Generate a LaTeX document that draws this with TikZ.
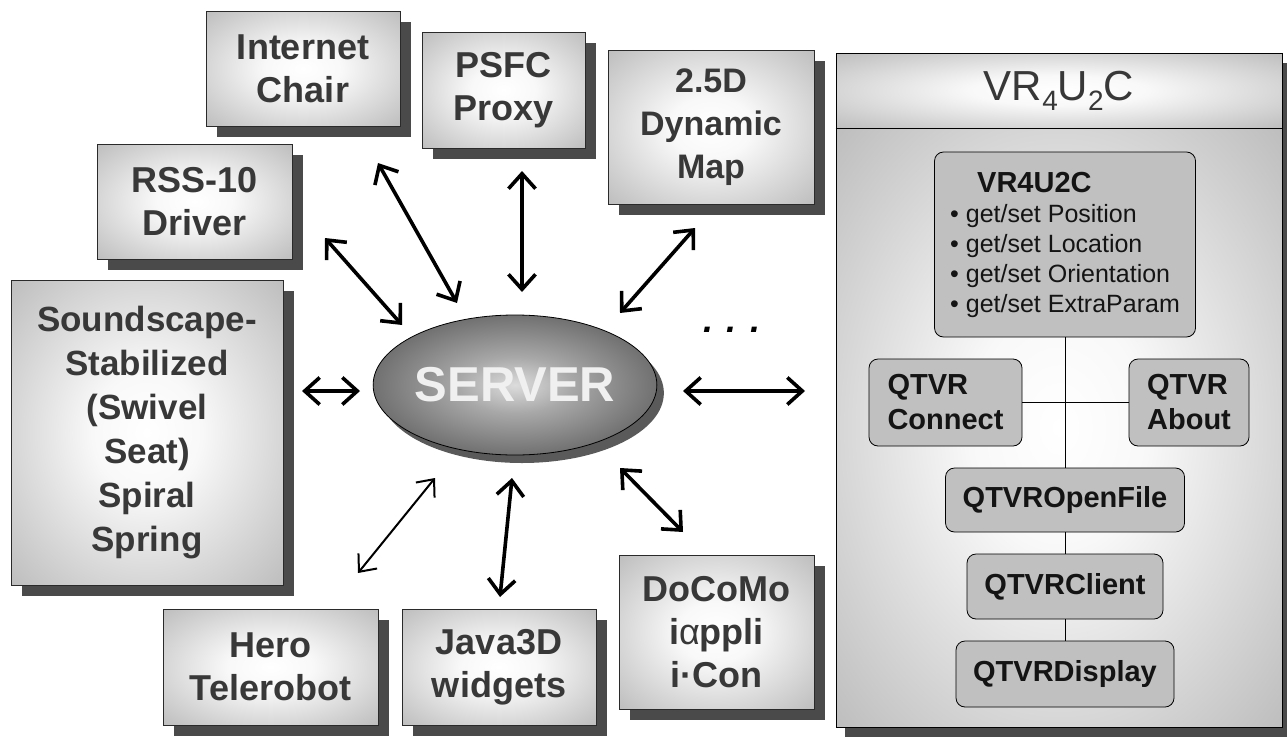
\documentclass[tikz,border=0pt]{standalone}
\usepackage{fontspec}
\setmainfont{Liberation Sans}
\usetikzlibrary{arrows.meta,shadows,shapes.geometric}

\definecolor{boxgray}{HTML}{BCBCBC}
\definecolor{shadowgray}{HTML}{4A4A4A}
\definecolor{boxline}{HTML}{2A2A2A}
\definecolor{boxtext}{HTML}{383838}
\definecolor{innergray}{HTML}{C0C0C0}
\definecolor{srvdark}{HTML}{484848}
\definecolor{srvlight}{HTML}{DCDCDC}
\definecolor{srvshadow}{HTML}{5A5A5A}

% soft light centre fading to grey at the edges
\pgfdeclareradialshading{boxglow}{\pgfpoint{0bp}{0bp}}{color(0bp)=(white); color(10bp)=(white!90!boxgray); color(36bp)=(boxgray); color(50bp)=(boxgray)}
\pgfdeclareradialshading{srvglow}{\pgfpoint{0bp}{0bp}}{color(0bp)=(srvlight); color(10bp)=(srvlight!65!srvdark); color(36bp)=(srvdark); color(50bp)=(srvdark)}

\begin{document}
\begin{tikzpicture}[x=1pt,y=-1pt,
  outerbox/.style={rectangle, draw=boxline, line width=0.8pt, shading=boxglow,
    general shadow={fill=shadowgray, shadow xshift=11pt, shadow yshift=-11pt},
    text=boxtext, align=center, inner sep=0pt,
    font=\bfseries\fontsize{36}{43}\selectfont},
  server/.style={ellipse, draw=black, line width=0.8pt, shading=srvglow,
    general shadow={fill=srvshadow, shadow xshift=7pt, shadow yshift=-8pt},
    minimum width=274pt, minimum height=140pt, inner sep=0pt,
    text=white!94!black, font=\bfseries\fontsize{49}{49}\selectfont},
  panelpart/.style={rectangle, draw=black, line width=0.9pt, shading=boxglow, inner sep=0pt},
  qbox/.style={rectangle, rounded corners=9pt, draw=black, line width=0.8pt,
    fill=innergray, inner sep=0pt, align=left, text=black!92,
    font=\bfseries\fontsize{29}{35}\selectfont},
  link/.style={draw=black, line width=0.8pt},
  biarrow/.style={line width=3.6pt, >={Straight Barb[length=15pt,width=27pt]}, <->},
  thinarrow/.style={line width=2pt, >={Straight Barb[length=14pt,width=24pt]}, <->}
]
\useasboundingbox (0,0) rectangle (1287,736);

% ---------- outer boxes ----------
\node[outerbox, minimum width=194pt, minimum height=115pt] (ichair) at (303,68.5) {Internet\\Chair};
\node[outerbox, minimum width=195pt, minimum height=115pt] (rss) at (194.5,201.5) {RSS-10\\Driver};
\node[outerbox, minimum width=163pt, minimum height=116pt] (psfc) at (503.5,90) {PSFC\\Proxy};
\node[outerbox, minimum width=206pt, minimum height=154pt,
      font=\bfseries\fontsize{34}{43}\selectfont] (dmap) at (711,127) {2.5D\\Dynamic\\Map};
\node[outerbox, minimum width=272pt, minimum height=305pt,
      font=\bfseries\fontsize{35}{44}\selectfont] (sound) at (147,432.5)
      {Soundscape-\\Stabilized\\(Swivel\\Seat)\\Spiral\\Spring};
\node[outerbox, minimum width=215pt, minimum height=116pt] (hero) at (270.5,667) {Hero\\Telerobot};
\node[outerbox, minimum width=194pt, minimum height=116pt] (java) at (499,667) {Java3D\\widgets};
\node[outerbox, minimum width=195pt, minimum height=154pt] (docomo) at (716.5,632) {DoCoMo\\i{\mdseries α}ppli\\i·Con};

% ---------- server ----------
\node[server] (server) at (515,385) {SERVER};

% ---------- VR4U2C panel ----------
\node[rectangle, draw=black, fill=boxgray, minimum width=446pt, minimum height=674pt,
      general shadow={fill=shadowgray, shadow xshift=9pt, shadow yshift=-10pt}] (panel) at (1059,390) {};
\node[panelpart, minimum width=446pt, minimum height=75pt, text=boxtext,
      font=\fontsize{42}{42}\selectfont] (phead) at (1059,90.5)
      {VR\raisebox{-10pt}{\fontsize{28}{28}\selectfont 4}U\raisebox{-10pt}{\fontsize{28}{28}\selectfont 2}C};
\node[panelpart, minimum width=446pt, minimum height=599pt] (pbody) at (1059,427.5) {};
\draw[line width=1.6pt] (phead.south west) -- (phead.south east);

\node[qbox, minimum width=261pt, minimum height=185pt,
      font=\fontsize{25}{30}\selectfont] (vrbox) at (1065,244.5)
      {\hspace*{27pt}{\bfseries\fontsize{29}{30}\selectfont VR4U2C}\\
       • get/set Position\\
       • get/set Location\\
       • get/set Orientation\\
       • get/set ExtraParam};
\node[qbox, minimum width=153pt, minimum height=87pt] (qconn) at (945.5,402.5) {QTVR\\Connect};
\node[qbox, minimum width=120pt, minimum height=87pt] (qabout) at (1189,402.5) {QTVR\\About};
\node[qbox, minimum width=239pt, minimum height=64pt] (qopen) at (1065,500) {QTVROpenFile};
\node[qbox, minimum width=196pt, minimum height=65pt] (qclient) at (1065,586.5) {QTVRClient};
\node[qbox, minimum width=218pt, minimum height=66pt] (qdisp) at (1065,674) {QTVRDisplay};

\draw[link] (vrbox.south) -- (qopen.north);
\draw[link] (qconn.east) -- (qabout.west);
\draw[link] (qopen.south) -- (qclient.north);
\draw[link] (qclient.south) -- (qdisp.north);

% ---------- connectors to the server ----------
\coordinate (ichairEnd) at (378,163);  \coordinate (ichairSrv) at (457,303);
\coordinate (rssEnd) at (325,238);     \coordinate (rssSrv) at (402,325);
\coordinate (psfcEnd) at (522,171);    \coordinate (psfcSrv) at (522,292);
\coordinate (dmapEnd) at (695,228);    \coordinate (dmapSrv) at (620,313);
\coordinate (soundEnd) at (302,391);   \coordinate (soundSrv) at (360,391);
\coordinate (panelEnd) at (805,391);   \coordinate (panelSrv) at (683,391);
\coordinate (heroEnd) at (358,573);    \coordinate (heroSrv) at (435,478);
\coordinate (javaEnd) at (500,597);    \coordinate (javaSrv) at (512,478);
\coordinate (docomoEnd) at (683,532);  \coordinate (docomoSrv) at (620,468);

\draw[biarrow] (ichairEnd) -- (ichairSrv);
\draw[biarrow] (rssEnd) -- (rssSrv);
\draw[biarrow] (psfcEnd) -- (psfcSrv);
\draw[biarrow] (dmapEnd) -- (dmapSrv);
\draw[biarrow] (soundEnd) -- (soundSrv);
\draw[biarrow] (panelSrv) -- (panelEnd);
\draw[thinarrow] (heroEnd) -- (heroSrv);
\draw[biarrow] (javaEnd) -- (javaSrv);
\draw[biarrow] (docomoEnd) -- (docomoSrv);

\node[font=\bfseries\itshape\fontsize{36}{36}\selectfont, text=black] (more) at (732,330) {. . .};
\end{tikzpicture}
\end{document}
